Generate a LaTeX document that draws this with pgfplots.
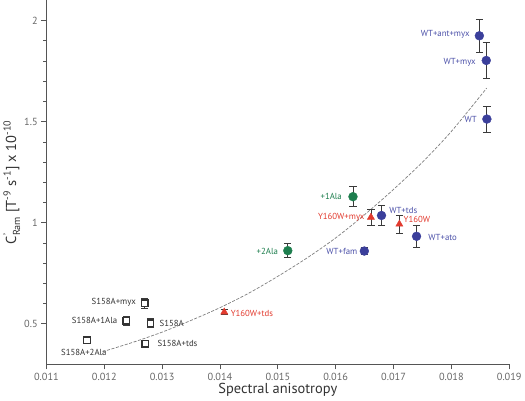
\documentclass[border=0pt]{standalone}
\usepackage{amsmath}
\usepackage{fontspec}
\setmainfont{PT Sans}
\usepackage{pgfplots}
\pgfplotsset{compat=1.18}
\definecolor{cBlue}{HTML}{3B3F9B}
\definecolor{cBlueT}{HTML}{4B50A8}
\definecolor{cGreen}{HTML}{1E7E4E}
\definecolor{cRed}{HTML}{E23A2E}
\definecolor{cAxis}{HTML}{555555}
\definecolor{cTick}{HTML}{666666}
\definecolor{cBar}{HTML}{3A3A3A}

\begin{document}
\begin{tikzpicture}
\begin{axis}[scale only axis,width=449pt,height=353pt,
  xmin=0.011,xmax=0.019,ymin=0.3,ymax=2.1,
  axis x line=bottom,axis y line=left,
  axis line style={-,cAxis,line width=0.8pt},
  tick style={cAxis,line width=0.7pt},
  tick align=outside,major tick length=5pt,minor tick length=3pt,
  xtick={0.011,0.012,...,0.019},
  ytick={0.5,1,1.5,2},minor y tick num=4,
  scaled x ticks=false,
  xticklabel style={/pgf/number format/.cd,fixed,precision=3,fixed zerofill},
  /pgf/number format/assume math mode=true,
  tick label style={font=\fontsize{10}{11}\selectfont,text=cTick},
  xlabel={Spectral anisotropy},
  ylabel={C$^{\text{'}}_{\text{Ram}}$ [T$^{\text{-9}}$ s$^{\text{-1}}$] x 10$^{\text{-10}}$},
  label style={font=\fontsize{14}{16}\selectfont,text=black!80},
  xlabel style={yshift=4pt},
  ylabel style={yshift=-3pt},
  clip=false,
  error bars/error bar style={cBar,line width=0.8pt},
  error bars/error mark options={rotate=90,mark size=3.5pt,cBar,line width=0.8pt}]

% fitted curve
\addplot[gray,line width=0.7pt,dash pattern=on 3pt off 1.5pt,smooth] coordinates {
 (0.01197,0.362)(0.0125,0.409)(0.013,0.459)(0.0135,0.517)(0.014,0.580)
 (0.0145,0.652)(0.015,0.735)(0.0155,0.825)(0.016,0.925)(0.0165,1.040)
 (0.017,1.165)(0.0175,1.300)(0.018,1.452)(0.01861,1.666)};

% S158A (open squares)
\addplot[only marks,mark=square*,mark size=3.2pt,
  mark options={draw=black!80,fill=white,line width=1.2pt},
  error bars/.cd,y dir=both,y explicit] coordinates {
 (0.012697,0.601) +- (0,0.025)
 (0.012382,0.515) +- (0,0.022)
 (0.012798,0.503) +- (0,0.022)
 (0.0117,0.419) +- (0,0.010)
 (0.012709,0.402) +- (0,0.010)};

% Y160W (red triangles)
\addplot[only marks,mark=triangle*,mark size=4pt,
  mark options={draw=cRed,fill=cRed},
  error bars/.cd,y dir=both,y explicit] coordinates {
 (0.016609,1.027) +- (0,0.040)
 (0.017101,0.993) +- (0,0.045)
 (0.014074,0.558) +- (0,0.012)};

% Ala (green circles)
\addplot[only marks,mark=*,mark size=4.3pt,
  mark options={draw=cGreen,fill=cGreen},
  error bars/.cd,y dir=both,y explicit] coordinates {
 (0.016299,1.129) +- (0,0.050)
 (0.015172,0.862) +- (0,0.035)};

% WT (blue circles)
\addplot[only marks,mark=*,mark size=4.3pt,
  mark options={draw=cBlue,fill=cBlue},
  error bars/.cd,y dir=both,y explicit] coordinates {
 (0.018484,1.925) +- (0,0.083)
 (0.018603,1.803) +- (0,0.090)
 (0.018614,1.513) +- (0,0.065)
 (0.016792,1.036) +- (0,0.050)
 (0.017398,0.933) +- (0,0.055)
 (0.016495,0.860) +- (0,0.018)};

% labels
\begin{scope}[font=\fontsize{8.5}{10}\selectfont]
\node[anchor=east,text=cBlueT] at (axis cs:0.018377,1.932) {WT+ant+myx};
\node[anchor=east,text=cBlueT] at (axis cs:0.018484,1.794) {WT+myx};
\node[anchor=east,text=cBlueT] at (axis cs:0.018502,1.513) {WT};
\node[anchor=west,text=cBlueT] at (axis cs:0.016864,1.063) {WT+tds};
\node[anchor=west,text=cBlueT] at (axis cs:0.017541,0.925) {WT+ato};
\node[anchor=east,text=cBlueT] at (axis cs:0.016436,0.860) {WT+fam};
\node[anchor=east,text=cGreen] at (axis cs:0.016169,1.129) {+1Ala};
\node[anchor=east,text=cGreen] at (axis cs:0.015065,0.860) {+2Ala};
\node[anchor=east,text=cRed] at (axis cs:0.016561,1.027) {Y160W+myx};
\node[anchor=west,text=cRed] at (axis cs:0.017113,1.017) {Y160W};
\node[anchor=west,text=cRed] at (axis cs:0.014123,0.551) {Y160W+tds};
\node[anchor=east,text=black!80] at (axis cs:0.012608,0.608) {S158A+myx};
\node[anchor=east,text=black!80] at (axis cs:0.012287,0.515) {S158A+1Ala};
\node[anchor=west,text=black!80] at (axis cs:0.012893,0.500) {S158A};
\node[text=black!80] at (axis cs:0.011647,0.360) {S158A+2Ala};
\node[anchor=west,text=black!80] at (axis cs:0.012857,0.403) {S158A+tds};
\end{scope}
\end{axis}
\end{tikzpicture}
\end{document}
